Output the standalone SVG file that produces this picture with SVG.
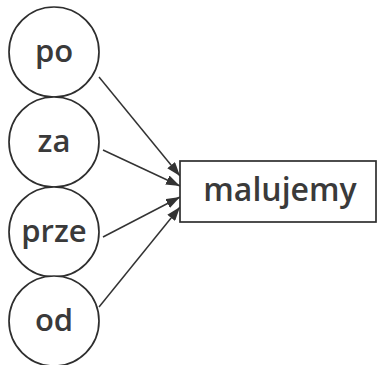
<svg xmlns="http://www.w3.org/2000/svg" width="377" height="365" viewBox="0 0 377 365">
<defs>
<marker id="ah" viewBox="0 0 14 10" refX="14" refY="5" markerWidth="14" markerHeight="10" markerUnits="userSpaceOnUse" orient="auto">
<path d="M0,0 L14,5 L0,10 z" fill="#333"/>
</marker>
<style>
.n{fill:#fff;stroke:#2e2e2e;stroke-width:1.7}
.t{font-family:"Open Sans",sans-serif;font-weight:600;fill:#3a3a3a;text-anchor:middle}
.c{stroke:#333;stroke-width:1.5;fill:none;marker-end:url(#ah)}
</style>
</defs>
<rect width="377" height="365" fill="#fff"/>
<g id="connectors">
<line class="c" x1="99" y1="77" x2="180" y2="176"/>
<line class="c" x1="103" y1="150" x2="180" y2="186"/>
<line class="c" x1="103" y1="237" x2="180" y2="197"/>
<line class="c" x1="99" y1="307" x2="180" y2="207"/>
</g>
<g id="po"><circle class="n" cx="54" cy="52" r="45"/><text class="t" x="54" y="62" font-size="31">po</text></g>
<g id="za"><circle class="n" cx="54" cy="142" r="45"/><text class="t" x="54" y="152" font-size="31">za</text></g>
<g id="prze"><circle class="n" cx="54" cy="232" r="45"/><text class="t" x="54" y="242" font-size="31">prze</text></g>
<g id="od"><circle class="n" cx="54" cy="321" r="45"/><text class="t" x="54" y="331" font-size="31">od</text></g>
<g id="malujemy"><rect class="n" x="180" y="161" width="196" height="61"/><text class="t" x="280" y="201" font-size="32">malujemy</text></g>
</svg>
